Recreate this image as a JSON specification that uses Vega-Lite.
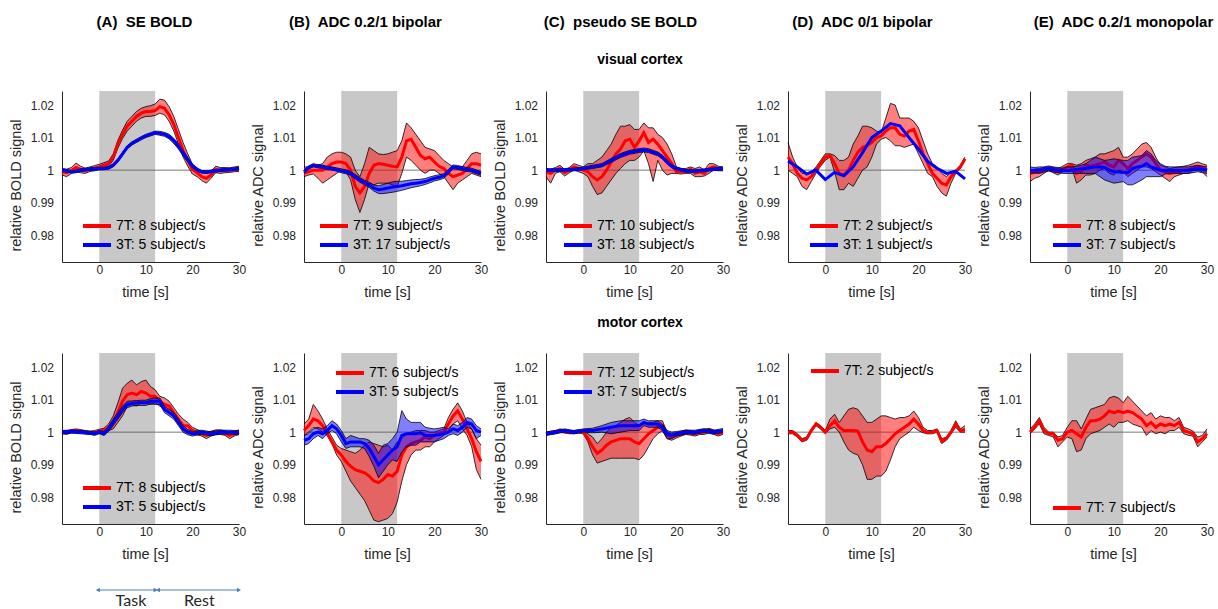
{
"$schema":"https://vega.github.io/schema/vega-lite/v6.json",
"background":"white",
"padding":{"left":8,"top":0,"right":0,"bottom":0},
"spacing":0,
"resolve":{"scale":{"color":"independent"},"legend":{"color":"independent"}},
"config":{
 "view":{"stroke":null},
 "font":"Liberation Sans",
 "axis":{"grid":false,"ticks":false,"domainColor":"#262626","domainWidth":1,"labelColor":"#262626","labelFontSize":12,"labelFont":"Liberation Sans","titleColor":"#262626","titleFontSize":14.5,"titleFontWeight":"normal","titleFont":"Liberation Sans","labelFlush":false,"labelOverlap":false},
 "axisX":{"labelPadding":2,"titlePadding":10},
 "axisY":{"labelPadding":8.5,"titlePadding":7},
 "legend":{"symbolType":"stroke","symbolStrokeWidth":4,"symbolSize":784,"labelFontSize":14,"labelFont":"Liberation Sans","labelColor":"#000000","rowPadding":-5,"gridAlign":"none","padding":0,"labelOffset":3}
},
"datasets":{
"A1":[
{"s":"7T","t":-8,"m":0.9995,"lo":0.9985,"hi":1.0005},{"s":"7T","t":-7,"m":0.9992,"lo":0.998,"hi":1.0003},{"s":"7T","t":-6,"m":0.9998,"lo":0.999,"hi":1.0008},{"s":"7T","t":-5,"m":1.0008,"lo":0.9995,"hi":1.0022},{"s":"7T","t":-4,"m":1.0002,"lo":0.9992,"hi":1.0012},{"s":"7T","t":-3,"m":0.9998,"lo":0.999,"hi":1.0006},{"s":"7T","t":-2,"m":1.0003,"lo":0.9996,"hi":1.001},{"s":"7T","t":-1,"m":1.0006,"lo":0.9998,"hi":1.0014},{"s":"7T","t":0,"m":1.001,"lo":1.0002,"hi":1.0018},{"s":"7T","t":1,"m":1.0015,"lo":1.0007,"hi":1.0023},{"s":"7T","t":2,"m":1.002,"lo":1.0012,"hi":1.0028},{"s":"7T","t":3,"m":1.004,"lo":1.003,"hi":1.005},{"s":"7T","t":4,"m":1.008,"lo":1.0068,"hi":1.0092},{"s":"7T","t":5,"m":1.011,"lo":1.0097,"hi":1.0123},{"s":"7T","t":6,"m":1.0135,"lo":1.012,"hi":1.015},{"s":"7T","t":7,"m":1.015,"lo":1.0135,"hi":1.0165},{"s":"7T","t":8,"m":1.0165,"lo":1.015,"hi":1.018},{"s":"7T","t":9,"m":1.0175,"lo":1.016,"hi":1.019},{"s":"7T","t":10,"m":1.018,"lo":1.0165,"hi":1.0195},{"s":"7T","t":11,"m":1.018,"lo":1.0165,"hi":1.0198},{"s":"7T","t":12,"m":1.0183,"lo":1.0168,"hi":1.0203},{"s":"7T","t":13,"m":1.0195,"lo":1.0175,"hi":1.0218},{"s":"7T","t":14,"m":1.019,"lo":1.017,"hi":1.0215},{"s":"7T","t":15,"m":1.017,"lo":1.015,"hi":1.0195},{"s":"7T","t":16,"m":1.014,"lo":1.012,"hi":1.0165},{"s":"7T","t":17,"m":1.01,"lo":1.008,"hi":1.0125},{"s":"7T","t":18,"m":1.006,"lo":1.004,"hi":1.0085},{"s":"7T","t":19,"m":1.003,"lo":1.0012,"hi":1.005},{"s":"7T","t":20,"m":1.0003,"lo":0.9988,"hi":1.0018},{"s":"7T","t":21,"m":0.9992,"lo":0.998,"hi":1.0005},{"s":"7T","t":22,"m":0.998,"lo":0.9968,"hi":0.9995},{"s":"7T","t":23,"m":0.9975,"lo":0.996,"hi":0.999},{"s":"7T","t":24,"m":0.9985,"lo":0.9975,"hi":0.9998},{"s":"7T","t":25,"m":1.0003,"lo":0.9992,"hi":1.0012},{"s":"7T","t":26,"m":0.9998,"lo":0.999,"hi":1.0008},{"s":"7T","t":27,"m":1.0,"lo":0.9992,"hi":1.0008},{"s":"7T","t":28,"m":1.0,"lo":0.9993,"hi":1.0007},{"s":"7T","t":29,"m":1.0002,"lo":0.9995,"hi":1.001},{"s":"7T","t":30,"m":1.0004,"lo":0.9996,"hi":1.0012},
{"s":"3T","t":-8,"m":1.0,"lo":0.9996,"hi":1.0004},{"s":"3T","t":-7,"m":0.9998,"lo":0.9994,"hi":1.0002},{"s":"3T","t":-6,"m":0.9995,"lo":0.9991,"hi":0.9999},{"s":"3T","t":-5,"m":0.9996,"lo":0.9992,"hi":1.0},{"s":"3T","t":-4,"m":1.0,"lo":0.9996,"hi":1.0004},{"s":"3T","t":-3,"m":1.0002,"lo":0.9998,"hi":1.0006},{"s":"3T","t":-2,"m":1.0003,"lo":0.9999,"hi":1.0007},{"s":"3T","t":-1,"m":1.0004,"lo":1.0,"hi":1.0008},{"s":"3T","t":0,"m":1.0005,"lo":1.0001,"hi":1.0009},{"s":"3T","t":1,"m":1.0005,"lo":1.0001,"hi":1.0009},{"s":"3T","t":2,"m":1.0007,"lo":1.0003,"hi":1.0011},{"s":"3T","t":3,"m":1.0015,"lo":1.001,"hi":1.002},{"s":"3T","t":4,"m":1.003,"lo":1.0025,"hi":1.0035},{"s":"3T","t":5,"m":1.005,"lo":1.0045,"hi":1.0055},{"s":"3T","t":6,"m":1.007,"lo":1.0065,"hi":1.0075},{"s":"3T","t":7,"m":1.0082,"lo":1.0077,"hi":1.0087},{"s":"3T","t":8,"m":1.009,"lo":1.0085,"hi":1.0095},{"s":"3T","t":9,"m":1.0098,"lo":1.0093,"hi":1.0103},{"s":"3T","t":10,"m":1.0105,"lo":1.01,"hi":1.011},{"s":"3T","t":11,"m":1.011,"lo":1.0105,"hi":1.0115},{"s":"3T","t":12,"m":1.0115,"lo":1.011,"hi":1.012},{"s":"3T","t":13,"m":1.0113,"lo":1.0107,"hi":1.0119},{"s":"3T","t":14,"m":1.011,"lo":1.0104,"hi":1.0116},{"s":"3T","t":15,"m":1.0103,"lo":1.0096,"hi":1.011},{"s":"3T","t":16,"m":1.009,"lo":1.0082,"hi":1.0098},{"s":"3T","t":17,"m":1.0073,"lo":1.0065,"hi":1.0081},{"s":"3T","t":18,"m":1.0052,"lo":1.0044,"hi":1.006},{"s":"3T","t":19,"m":1.0032,"lo":1.0025,"hi":1.0039},{"s":"3T","t":20,"m":1.0013,"lo":1.0007,"hi":1.0019},{"s":"3T","t":21,"m":1.0002,"lo":0.9997,"hi":1.0007},{"s":"3T","t":22,"m":0.9995,"lo":0.9991,"hi":0.9999},{"s":"3T","t":23,"m":0.9994,"lo":0.999,"hi":0.9998},{"s":"3T","t":24,"m":0.9996,"lo":0.9992,"hi":1.0},{"s":"3T","t":25,"m":0.9998,"lo":0.9994,"hi":1.0002},{"s":"3T","t":26,"m":1.0,"lo":0.9996,"hi":1.0004},{"s":"3T","t":27,"m":1.0001,"lo":0.9997,"hi":1.0005},{"s":"3T","t":28,"m":1.0002,"lo":0.9998,"hi":1.0006},{"s":"3T","t":29,"m":1.0003,"lo":0.9999,"hi":1.0007},{"s":"3T","t":30,"m":1.0005,"lo":1.0001,"hi":1.0009}
],
"B1":[
{"s":"7T","t":-8,"m":0.999,"lo":0.998,"hi":1.001},{"s":"7T","t":-7,"m":0.9995,"lo":0.9985,"hi":1.001},{"s":"7T","t":-6,"m":1.0,"lo":0.9988,"hi":1.0012},{"s":"7T","t":-5,"m":1.0,"lo":0.9975,"hi":1.0015},{"s":"7T","t":-4,"m":1.0,"lo":0.996,"hi":1.002},{"s":"7T","t":-3,"m":1.001,"lo":0.997,"hi":1.004},{"s":"7T","t":-2,"m":1.002,"lo":0.998,"hi":1.005},{"s":"7T","t":-1,"m":1.0025,"lo":0.999,"hi":1.0055},{"s":"7T","t":0,"m":1.0025,"lo":1.0,"hi":1.0055},{"s":"7T","t":1,"m":1.002,"lo":0.9995,"hi":1.005},{"s":"7T","t":2,"m":1.0,"lo":0.997,"hi":1.004},{"s":"7T","t":3,"m":0.995,"lo":0.991,"hi":1.0},{"s":"7T","t":4,"m":0.993,"lo":0.987,"hi":0.998},{"s":"7T","t":5,"m":0.995,"lo":0.991,"hi":1.002},{"s":"7T","t":6,"m":0.999,"lo":0.996,"hi":1.007},{"s":"7T","t":7,"m":1.0015,"lo":0.9955,"hi":1.006},{"s":"7T","t":8,"m":1.002,"lo":0.996,"hi":1.005},{"s":"7T","t":9,"m":1.0018,"lo":0.996,"hi":1.0048},{"s":"7T","t":10,"m":1.0015,"lo":0.996,"hi":1.005},{"s":"7T","t":11,"m":1.0012,"lo":0.9955,"hi":1.0055},{"s":"7T","t":12,"m":1.001,"lo":0.995,"hi":1.006},{"s":"7T","t":13,"m":1.004,"lo":0.999,"hi":1.009},{"s":"7T","t":14,"m":1.009,"lo":1.004,"hi":1.0145},{"s":"7T","t":15,"m":1.0095,"lo":1.003,"hi":1.013},{"s":"7T","t":16,"m":1.007,"lo":1.0015,"hi":1.011},{"s":"7T","t":17,"m":1.0045,"lo":1.0,"hi":1.009},{"s":"7T","t":18,"m":1.0035,"lo":0.999,"hi":1.007},{"s":"7T","t":19,"m":1.004,"lo":1.0,"hi":1.0065},{"s":"7T","t":20,"m":1.0025,"lo":1.0,"hi":1.006},{"s":"7T","t":21,"m":1.0012,"lo":0.999,"hi":1.0045},{"s":"7T","t":22,"m":1.0005,"lo":0.998,"hi":1.003},{"s":"7T","t":23,"m":0.999,"lo":0.996,"hi":1.002},{"s":"7T","t":24,"m":0.998,"lo":0.994,"hi":1.001},{"s":"7T","t":25,"m":0.9985,"lo":0.996,"hi":1.001},{"s":"7T","t":26,"m":0.999,"lo":0.997,"hi":1.001},{"s":"7T","t":27,"m":1.0005,"lo":0.998,"hi":1.003},{"s":"7T","t":28,"m":1.002,"lo":0.999,"hi":1.005},{"s":"7T","t":29,"m":1.002,"lo":0.9985,"hi":1.0055},{"s":"7T","t":30,"m":1.0015,"lo":0.998,"hi":1.005},
{"s":"3T","t":-8,"m":0.9995,"lo":0.999,"hi":1.0},{"s":"3T","t":-7,"m":1.0008,"lo":1.0003,"hi":1.0013},{"s":"3T","t":-6,"m":1.0015,"lo":1.001,"hi":1.002},{"s":"3T","t":-5,"m":1.0012,"lo":1.0007,"hi":1.0017},{"s":"3T","t":-4,"m":1.001,"lo":1.0005,"hi":1.0015},{"s":"3T","t":-3,"m":1.0007,"lo":1.0002,"hi":1.0012},{"s":"3T","t":-2,"m":1.0005,"lo":1.0,"hi":1.001},{"s":"3T","t":-1,"m":1.0002,"lo":0.9997,"hi":1.0007},{"s":"3T","t":0,"m":0.9998,"lo":0.9992,"hi":1.0004},{"s":"3T","t":1,"m":0.9995,"lo":0.9989,"hi":1.0001},{"s":"3T","t":2,"m":0.999,"lo":0.9984,"hi":0.9996},{"s":"3T","t":3,"m":0.998,"lo":0.9973,"hi":0.9987},{"s":"3T","t":4,"m":0.997,"lo":0.9963,"hi":0.9977},{"s":"3T","t":5,"m":0.9962,"lo":0.9955,"hi":0.9969},{"s":"3T","t":6,"m":0.9955,"lo":0.9947,"hi":0.9963},{"s":"3T","t":7,"m":0.9945,"lo":0.9936,"hi":0.9954},{"s":"3T","t":8,"m":0.994,"lo":0.9928,"hi":0.9952},{"s":"3T","t":9,"m":0.9942,"lo":0.9928,"hi":0.9956},{"s":"3T","t":10,"m":0.9945,"lo":0.993,"hi":0.996},{"s":"3T","t":11,"m":0.9948,"lo":0.9932,"hi":0.9964},{"s":"3T","t":12,"m":0.995,"lo":0.9935,"hi":0.9966},{"s":"3T","t":13,"m":0.9952,"lo":0.9938,"hi":0.9966},{"s":"3T","t":14,"m":0.9955,"lo":0.9942,"hi":0.9968},{"s":"3T","t":15,"m":0.9958,"lo":0.9946,"hi":0.997},{"s":"3T","t":16,"m":0.996,"lo":0.9949,"hi":0.9971},{"s":"3T","t":17,"m":0.9962,"lo":0.9952,"hi":0.9972},{"s":"3T","t":18,"m":0.9965,"lo":0.9956,"hi":0.9974},{"s":"3T","t":19,"m":0.997,"lo":0.9961,"hi":0.9979},{"s":"3T","t":20,"m":0.9975,"lo":0.9967,"hi":0.9983},{"s":"3T","t":21,"m":0.9978,"lo":0.997,"hi":0.9986},{"s":"3T","t":22,"m":0.9982,"lo":0.9975,"hi":0.9989},{"s":"3T","t":23,"m":0.9995,"lo":0.9988,"hi":1.0002},{"s":"3T","t":24,"m":1.001,"lo":1.0004,"hi":1.0016},{"s":"3T","t":25,"m":1.0008,"lo":1.0002,"hi":1.0014},{"s":"3T","t":26,"m":1.0005,"lo":0.9999,"hi":1.0011},{"s":"3T","t":27,"m":1.0002,"lo":0.9996,"hi":1.0008},{"s":"3T","t":28,"m":1.0,"lo":0.9994,"hi":1.0006},{"s":"3T","t":29,"m":0.9995,"lo":0.9989,"hi":1.0001},{"s":"3T","t":30,"m":0.999,"lo":0.9984,"hi":0.9996}
],
"C1":[
{"s":"7T","t":-8,"m":0.9995,"lo":0.998,"hi":1.0005},{"s":"7T","t":-7,"m":0.999,"lo":0.996,"hi":1.0003},{"s":"7T","t":-6,"m":1.0,"lo":0.999,"hi":1.0008},{"s":"7T","t":-5,"m":1.0005,"lo":0.9995,"hi":1.0015},{"s":"7T","t":-4,"m":0.9992,"lo":0.9982,"hi":1.0002},{"s":"7T","t":-3,"m":1.0,"lo":0.9992,"hi":1.0008},{"s":"7T","t":-2,"m":1.001,"lo":1.0,"hi":1.002},{"s":"7T","t":-1,"m":1.0005,"lo":0.9995,"hi":1.0015},{"s":"7T","t":0,"m":1.0,"lo":0.999,"hi":1.001},{"s":"7T","t":1,"m":0.9995,"lo":0.998,"hi":1.002},{"s":"7T","t":2,"m":0.998,"lo":0.995,"hi":1.002},{"s":"7T","t":3,"m":0.997,"lo":0.9925,"hi":1.003},{"s":"7T","t":4,"m":0.998,"lo":0.993,"hi":1.004},{"s":"7T","t":5,"m":1.0,"lo":0.995,"hi":1.006},{"s":"7T","t":6,"m":1.0025,"lo":0.997,"hi":1.008},{"s":"7T","t":7,"m":1.005,"lo":0.999,"hi":1.011},{"s":"7T","t":8,"m":1.0065,"lo":1.0005,"hi":1.0135},{"s":"7T","t":9,"m":1.009,"lo":1.002,"hi":1.0135},{"s":"7T","t":10,"m":1.0095,"lo":1.003,"hi":1.014},{"s":"7T","t":11,"m":1.007,"lo":1.003,"hi":1.0125},{"s":"7T","t":12,"m":1.009,"lo":1.004,"hi":1.0125},{"s":"7T","t":13,"m":1.0115,"lo":1.006,"hi":1.0145},{"s":"7T","t":14,"m":1.0085,"lo":1.002,"hi":1.013},{"s":"7T","t":15,"m":1.0095,"lo":0.9965,"hi":1.013},{"s":"7T","t":16,"m":1.008,"lo":1.003,"hi":1.011},{"s":"7T","t":17,"m":1.006,"lo":1.0,"hi":1.01},{"s":"7T","t":18,"m":1.004,"lo":0.9985,"hi":1.008},{"s":"7T","t":19,"m":1.002,"lo":0.999,"hi":1.005},{"s":"7T","t":20,"m":0.9995,"lo":0.999,"hi":1.001},{"s":"7T","t":21,"m":0.9995,"lo":0.9988,"hi":1.0005},{"s":"7T","t":22,"m":0.9995,"lo":0.999,"hi":1.0005},{"s":"7T","t":23,"m":1.0003,"lo":0.999,"hi":1.001},{"s":"7T","t":24,"m":0.999,"lo":0.998,"hi":1.0005},{"s":"7T","t":25,"m":0.9995,"lo":0.998,"hi":1.001},{"s":"7T","t":26,"m":0.999,"lo":0.9982,"hi":1.0},{"s":"7T","t":27,"m":1.0005,"lo":0.999,"hi":1.002},{"s":"7T","t":28,"m":1.001,"lo":1.0,"hi":1.002},{"s":"7T","t":29,"m":1.0005,"lo":0.9998,"hi":1.0012},{"s":"7T","t":30,"m":1.0005,"lo":0.9998,"hi":1.001},
{"s":"3T","t":-8,"m":1.0,"lo":0.9996,"hi":1.0004},{"s":"3T","t":-6,"m":1.0,"lo":0.9996,"hi":1.0004},{"s":"3T","t":-4,"m":1.0001,"lo":0.9997,"hi":1.0005},{"s":"3T","t":-2,"m":1.0002,"lo":0.9998,"hi":1.0006},{"s":"3T","t":0,"m":1.0005,"lo":1.0001,"hi":1.0009},{"s":"3T","t":2,"m":1.001,"lo":1.0005,"hi":1.0015},{"s":"3T","t":4,"m":1.0015,"lo":1.001,"hi":1.002},{"s":"3T","t":6,"m":1.003,"lo":1.0024,"hi":1.0036},{"s":"3T","t":8,"m":1.0045,"lo":1.0039,"hi":1.0051},{"s":"3T","t":10,"m":1.0055,"lo":1.0049,"hi":1.0061},{"s":"3T","t":12,"m":1.006,"lo":1.0054,"hi":1.0066},{"s":"3T","t":13,"m":1.0062,"lo":1.0056,"hi":1.0068},{"s":"3T","t":14,"m":1.006,"lo":1.0054,"hi":1.0066},{"s":"3T","t":16,"m":1.005,"lo":1.0044,"hi":1.0056},{"s":"3T","t":17,"m":1.004,"lo":1.0034,"hi":1.0046},{"s":"3T","t":18,"m":1.0025,"lo":1.0019,"hi":1.0031},{"s":"3T","t":19,"m":1.0012,"lo":1.0007,"hi":1.0017},{"s":"3T","t":20,"m":1.0005,"lo":1.0001,"hi":1.0009},{"s":"3T","t":22,"m":0.9998,"lo":0.9994,"hi":1.0002},{"s":"3T","t":24,"m":0.9997,"lo":0.9993,"hi":1.0001},{"s":"3T","t":26,"m":1.0,"lo":0.9996,"hi":1.0004},{"s":"3T","t":28,"m":1.0003,"lo":0.9999,"hi":1.0007},{"s":"3T","t":30,"m":1.0005,"lo":1.0001,"hi":1.0009}
],
"D1":[
{"s":"7T","t":-8,"m":1.004,"lo":1.0,"hi":1.0085},{"s":"7T","t":-7,"m":1.002,"lo":0.999,"hi":1.004},{"s":"7T","t":-6,"m":0.999,"lo":0.998,"hi":1.001},{"s":"7T","t":-5,"m":0.9975,"lo":0.995,"hi":0.999},{"s":"7T","t":-4,"m":0.997,"lo":0.994,"hi":0.999},{"s":"7T","t":-3,"m":0.998,"lo":0.9965,"hi":0.9995},{"s":"7T","t":-2,"m":1.0,"lo":0.999,"hi":1.001},{"s":"7T","t":-1,"m":1.002,"lo":1.0012,"hi":1.003},{"s":"7T","t":0,"m":1.004,"lo":1.003,"hi":1.005},{"s":"7T","t":1,"m":1.0045,"lo":1.004,"hi":1.005},{"s":"7T","t":2,"m":1.002,"lo":0.9995,"hi":1.0045},{"s":"7T","t":3,"m":0.999,"lo":0.994,"hi":1.003},{"s":"7T","t":4,"m":0.9985,"lo":0.994,"hi":1.003},{"s":"7T","t":5,"m":1.0,"lo":0.996,"hi":1.004},{"s":"7T","t":6,"m":1.003,"lo":0.995,"hi":1.008},{"s":"7T","t":7,"m":1.0055,"lo":0.9975,"hi":1.0105},{"s":"7T","t":8,"m":1.007,"lo":1.0,"hi":1.0135},{"s":"7T","t":9,"m":1.0075,"lo":1.001,"hi":1.0135},{"s":"7T","t":10,"m":1.0085,"lo":1.004,"hi":1.013},{"s":"7T","t":11,"m":1.01,"lo":1.008,"hi":1.012},{"s":"7T","t":12,"m":1.0105,"lo":1.0095,"hi":1.0115},{"s":"7T","t":13,"m":1.012,"lo":1.01,"hi":1.016},{"s":"7T","t":14,"m":1.013,"lo":1.009,"hi":1.0205},{"s":"7T","t":15,"m":1.013,"lo":1.0075,"hi":1.02},{"s":"7T","t":16,"m":1.011,"lo":1.0075,"hi":1.016},{"s":"7T","t":17,"m":1.0105,"lo":1.007,"hi":1.016},{"s":"7T","t":18,"m":1.012,"lo":1.0075,"hi":1.016},{"s":"7T","t":19,"m":1.0125,"lo":1.008,"hi":1.015},{"s":"7T","t":20,"m":1.009,"lo":1.005,"hi":1.013},{"s":"7T","t":21,"m":1.005,"lo":1.002,"hi":1.009},{"s":"7T","t":22,"m":1.002,"lo":0.999,"hi":1.005},{"s":"7T","t":23,"m":0.999,"lo":0.998,"hi":1.002},{"s":"7T","t":24,"m":0.9975,"lo":0.995,"hi":1.001},{"s":"7T","t":25,"m":0.996,"lo":0.993,"hi":0.999},{"s":"7T","t":26,"m":0.9955,"lo":0.992,"hi":0.998},{"s":"7T","t":27,"m":0.998,"lo":0.996,"hi":0.9995},{"s":"7T","t":28,"m":0.9995,"lo":0.999,"hi":1.0},{"s":"7T","t":29,"m":1.001,"lo":1.0005,"hi":1.0015},{"s":"7T","t":30,"m":1.0035,"lo":1.003,"hi":1.004},
{"s":"3T","t":-8,"m":1.0028},{"s":"3T","t":-6,"m":1.001},{"s":"3T","t":-4,"m":0.9988},{"s":"3T","t":-2,"m":1.0},{"s":"3T","t":0,"m":0.9971},{"s":"3T","t":2,"m":0.9993},{"s":"3T","t":4,"m":0.9983},{"s":"3T","t":6,"m":1.001},{"s":"3T","t":8,"m":1.0054},{"s":"3T","t":10,"m":1.01},{"s":"3T","t":12,"m":1.012},{"s":"3T","t":14,"m":1.0143},{"s":"3T","t":16,"m":1.0136},{"s":"3T","t":18,"m":1.01},{"s":"3T","t":20,"m":1.0065},{"s":"3T","t":22,"m":1.0027},{"s":"3T","t":24,"m":1.0006},{"s":"3T","t":26,"m":0.999},{"s":"3T","t":28,"m":0.9996},{"s":"3T","t":30,"m":0.9973}
],
"E1":[
{"s":"7T","t":-8,"m":0.999,"lo":0.9965,"hi":1.0},{"s":"7T","t":-7,"m":0.9993,"lo":0.9975,"hi":1.0003},{"s":"7T","t":-6,"m":0.9995,"lo":0.998,"hi":1.0005},{"s":"7T","t":-5,"m":1.0,"lo":0.999,"hi":1.0008},{"s":"7T","t":-4,"m":1.0005,"lo":1.0,"hi":1.001},{"s":"7T","t":-3,"m":1.0,"lo":0.9992,"hi":1.0008},{"s":"7T","t":-2,"m":0.9995,"lo":0.9985,"hi":1.0005},{"s":"7T","t":-1,"m":1.0003,"lo":0.9995,"hi":1.0012},{"s":"7T","t":0,"m":1.001,"lo":1.0,"hi":1.002},{"s":"7T","t":1,"m":1.0015,"lo":1.0005,"hi":1.002},{"s":"7T","t":2,"m":0.999,"lo":0.996,"hi":1.0015},{"s":"7T","t":3,"m":0.9995,"lo":0.997,"hi":1.002},{"s":"7T","t":4,"m":1.0015,"lo":0.9985,"hi":1.003},{"s":"7T","t":5,"m":1.0012,"lo":0.9985,"hi":1.0035},{"s":"7T","t":6,"m":1.0015,"lo":0.999,"hi":1.004},{"s":"7T","t":7,"m":1.002,"lo":1.0,"hi":1.005},{"s":"7T","t":8,"m":1.0025,"lo":1.0005,"hi":1.005},{"s":"7T","t":9,"m":1.0015,"lo":0.999,"hi":1.0055},{"s":"7T","t":10,"m":1.001,"lo":0.9985,"hi":1.006},{"s":"7T","t":11,"m":1.003,"lo":1.0,"hi":1.007},{"s":"7T","t":12,"m":1.002,"lo":0.9995,"hi":1.004},{"s":"7T","t":13,"m":1.0005,"lo":0.998,"hi":1.004},{"s":"7T","t":14,"m":1.002,"lo":0.999,"hi":1.005},{"s":"7T","t":15,"m":1.003,"lo":1.0,"hi":1.0065},{"s":"7T","t":16,"m":1.004,"lo":1.001,"hi":1.008},{"s":"7T","t":17,"m":1.005,"lo":1.001,"hi":1.0085},{"s":"7T","t":18,"m":1.004,"lo":1.0005,"hi":1.007},{"s":"7T","t":19,"m":1.002,"lo":0.9995,"hi":1.004},{"s":"7T","t":20,"m":1.0,"lo":0.9985,"hi":1.0015},{"s":"7T","t":21,"m":0.9995,"lo":0.9975,"hi":1.001},{"s":"7T","t":22,"m":0.999,"lo":0.9965,"hi":1.0005},{"s":"7T","t":23,"m":0.9993,"lo":0.998,"hi":1.0008},{"s":"7T","t":24,"m":0.9995,"lo":0.9985,"hi":1.001},{"s":"7T","t":25,"m":1.0,"lo":0.999,"hi":1.0012},{"s":"7T","t":26,"m":1.0,"lo":0.999,"hi":1.0015},{"s":"7T","t":27,"m":1.0008,"lo":0.9998,"hi":1.002},{"s":"7T","t":28,"m":1.0012,"lo":1.0,"hi":1.0025},{"s":"7T","t":29,"m":1.0008,"lo":0.9995,"hi":1.002},{"s":"7T","t":30,"m":1.0,"lo":0.998,"hi":1.0015},
{"s":"3T","t":-8,"m":1.0,"lo":0.999,"hi":1.001},{"s":"3T","t":-7,"m":1.0,"lo":0.9992,"hi":1.0008},{"s":"3T","t":-6,"m":1.0,"lo":0.999,"hi":1.001},{"s":"3T","t":-5,"m":1.0002,"lo":0.9994,"hi":1.001},{"s":"3T","t":-4,"m":1.0005,"lo":0.9997,"hi":1.0013},{"s":"3T","t":-3,"m":1.0002,"lo":0.9994,"hi":1.001},{"s":"3T","t":-2,"m":1.0,"lo":0.9992,"hi":1.0008},{"s":"3T","t":-1,"m":0.9998,"lo":0.999,"hi":1.0006},{"s":"3T","t":0,"m":0.9998,"lo":0.999,"hi":1.001},{"s":"3T","t":1,"m":1.0,"lo":0.999,"hi":1.001},{"s":"3T","t":2,"m":1.0002,"lo":0.999,"hi":1.0012},{"s":"3T","t":3,"m":1.0004,"lo":0.999,"hi":1.0015},{"s":"3T","t":4,"m":1.0005,"lo":0.999,"hi":1.002},{"s":"3T","t":5,"m":1.0008,"lo":0.999,"hi":1.003},{"s":"3T","t":6,"m":1.001,"lo":0.999,"hi":1.004},{"s":"3T","t":7,"m":1.001,"lo":0.998,"hi":1.0035},{"s":"3T","t":8,"m":1.0008,"lo":0.997,"hi":1.003},{"s":"3T","t":9,"m":1.0,"lo":0.9965,"hi":1.0032},{"s":"3T","t":10,"m":0.9995,"lo":0.996,"hi":1.0035},{"s":"3T","t":11,"m":0.9994,"lo":0.9962,"hi":1.0032},{"s":"3T","t":12,"m":0.9993,"lo":0.9965,"hi":1.003},{"s":"3T","t":13,"m":0.9992,"lo":0.9955,"hi":1.003},{"s":"3T","t":14,"m":1.0005,"lo":0.9955,"hi":1.004},{"s":"3T","t":15,"m":1.001,"lo":0.9962,"hi":1.0042},{"s":"3T","t":16,"m":1.0012,"lo":0.997,"hi":1.0045},{"s":"3T","t":17,"m":1.002,"lo":0.998,"hi":1.006},{"s":"3T","t":18,"m":1.001,"lo":0.998,"hi":1.005},{"s":"3T","t":19,"m":1.0005,"lo":0.998,"hi":1.003},{"s":"3T","t":20,"m":1.0,"lo":0.998,"hi":1.002},{"s":"3T","t":21,"m":1.0,"lo":0.9988,"hi":1.0012},{"s":"3T","t":22,"m":1.0,"lo":0.999,"hi":1.001},{"s":"3T","t":24,"m":1.0,"lo":0.999,"hi":1.001},{"s":"3T","t":26,"m":1.0,"lo":0.999,"hi":1.001},{"s":"3T","t":28,"m":1.0005,"lo":0.9995,"hi":1.0015},{"s":"3T","t":30,"m":1.0,"lo":0.999,"hi":1.001}
],
"A2":[
{"s":"7T","t":-8,"m":1.0,"lo":0.9995,"hi":1.0005},{"s":"7T","t":-7,"m":0.9998,"lo":0.9993,"hi":1.0003},{"s":"7T","t":-6,"m":1.0003,"lo":0.9998,"hi":1.0008},{"s":"7T","t":-5,"m":1.0005,"lo":1.0,"hi":1.001},{"s":"7T","t":-4,"m":1.0003,"lo":0.9998,"hi":1.0008},{"s":"7T","t":-3,"m":1.0,"lo":0.9995,"hi":1.0005},{"s":"7T","t":-2,"m":0.9998,"lo":0.9993,"hi":1.0003},{"s":"7T","t":-1,"m":1.0,"lo":0.9995,"hi":1.0005},{"s":"7T","t":0,"m":1.0003,"lo":0.9997,"hi":1.0009},{"s":"7T","t":1,"m":1.0005,"lo":0.9998,"hi":1.0012},{"s":"7T","t":2,"m":1.0015,"lo":1.0005,"hi":1.0025},{"s":"7T","t":3,"m":1.003,"lo":1.001,"hi":1.005},{"s":"7T","t":4,"m":1.006,"lo":1.003,"hi":1.009},{"s":"7T","t":5,"m":1.0095,"lo":1.005,"hi":1.0135},{"s":"7T","t":6,"m":1.0115,"lo":1.008,"hi":1.015},{"s":"7T","t":7,"m":1.012,"lo":1.0085,"hi":1.016},{"s":"7T","t":8,"m":1.0115,"lo":1.008,"hi":1.0145},{"s":"7T","t":9,"m":1.0125,"lo":1.009,"hi":1.0155},{"s":"7T","t":10,"m":1.012,"lo":1.009,"hi":1.016},{"s":"7T","t":11,"m":1.011,"lo":1.0085,"hi":1.014},{"s":"7T","t":12,"m":1.011,"lo":1.009,"hi":1.013},{"s":"7T","t":13,"m":1.0095,"lo":1.008,"hi":1.011},{"s":"7T","t":14,"m":1.0085,"lo":1.007,"hi":1.0105},{"s":"7T","t":15,"m":1.008,"lo":1.006,"hi":1.0095},{"s":"7T","t":16,"m":1.006,"lo":1.0045,"hi":1.0075},{"s":"7T","t":17,"m":1.004,"lo":1.0025,"hi":1.0055},{"s":"7T","t":18,"m":1.002,"lo":1.0005,"hi":1.004},{"s":"7T","t":19,"m":1.002,"lo":1.0005,"hi":1.003},{"s":"7T","t":20,"m":1.0005,"lo":0.9995,"hi":1.0015},{"s":"7T","t":21,"m":1.0,"lo":0.9992,"hi":1.0008},{"s":"7T","t":22,"m":0.9995,"lo":0.9988,"hi":1.0003},{"s":"7T","t":23,"m":0.999,"lo":0.998,"hi":1.0},{"s":"7T","t":24,"m":0.9995,"lo":0.9988,"hi":1.0003},{"s":"7T","t":25,"m":1.0,"lo":0.9993,"hi":1.0007},{"s":"7T","t":26,"m":1.0,"lo":0.9993,"hi":1.0007},{"s":"7T","t":27,"m":0.9997,"lo":0.999,"hi":1.0004},{"s":"7T","t":28,"m":0.999,"lo":0.998,"hi":1.0},{"s":"7T","t":29,"m":0.9995,"lo":0.9988,"hi":1.0003},{"s":"7T","t":30,"m":1.0,"lo":0.9993,"hi":1.0007},
{"s":"3T","t":-8,"m":1.0,"lo":0.9995,"hi":1.0005},{"s":"3T","t":-6,"m":1.0002,"lo":0.9997,"hi":1.0007},{"s":"3T","t":-4,"m":1.0,"lo":0.9995,"hi":1.0005},{"s":"3T","t":-2,"m":0.9998,"lo":0.9993,"hi":1.0003},{"s":"3T","t":-1,"m":0.9995,"lo":0.999,"hi":1.0},{"s":"3T","t":0,"m":1.0,"lo":0.9995,"hi":1.0005},{"s":"3T","t":1,"m":0.9995,"lo":0.999,"hi":1.0002},{"s":"3T","t":2,"m":1.001,"lo":1.0002,"hi":1.0018},{"s":"3T","t":3,"m":1.003,"lo":1.002,"hi":1.004},{"s":"3T","t":4,"m":1.005,"lo":1.004,"hi":1.006},{"s":"3T","t":5,"m":1.007,"lo":1.006,"hi":1.008},{"s":"3T","t":6,"m":1.0085,"lo":1.0075,"hi":1.0095},{"s":"3T","t":7,"m":1.0088,"lo":1.008,"hi":1.0096},{"s":"3T","t":8,"m":1.009,"lo":1.0082,"hi":1.0097},{"s":"3T","t":9,"m":1.009,"lo":1.0082,"hi":1.0098},{"s":"3T","t":10,"m":1.009,"lo":1.0082,"hi":1.0098},{"s":"3T","t":11,"m":1.0095,"lo":1.0087,"hi":1.0103},{"s":"3T","t":12,"m":1.0095,"lo":1.0085,"hi":1.0105},{"s":"3T","t":13,"m":1.0095,"lo":1.0085,"hi":1.0105},{"s":"3T","t":14,"m":1.007,"lo":1.006,"hi":1.008},{"s":"3T","t":15,"m":1.006,"lo":1.005,"hi":1.007},{"s":"3T","t":16,"m":1.005,"lo":1.004,"hi":1.006},{"s":"3T","t":17,"m":1.003,"lo":1.002,"hi":1.004},{"s":"3T","t":18,"m":1.001,"lo":1.0,"hi":1.002},{"s":"3T","t":19,"m":1.0,"lo":0.9992,"hi":1.0008},{"s":"3T","t":20,"m":0.9995,"lo":0.9988,"hi":1.0002},{"s":"3T","t":22,"m":1.0,"lo":0.9994,"hi":1.0006},{"s":"3T","t":24,"m":0.9995,"lo":0.9989,"hi":1.0001},{"s":"3T","t":26,"m":1.0,"lo":0.9994,"hi":1.0006},{"s":"3T","t":28,"m":1.0,"lo":0.9994,"hi":1.0006},{"s":"3T","t":30,"m":0.9998,"lo":0.9992,"hi":1.0004}
],
"B2":[
{"s":"7T","t":-8,"m":1.0005,"lo":0.999,"hi":1.0025},{"s":"7T","t":-7,"m":1.002,"lo":1.0,"hi":1.004},{"s":"7T","t":-6,"m":1.004,"lo":1.0015,"hi":1.0085},{"s":"7T","t":-5,"m":1.0035,"lo":1.001,"hi":1.0065},{"s":"7T","t":-4,"m":1.002,"lo":1.0,"hi":1.004},{"s":"7T","t":-3,"m":0.9995,"lo":0.999,"hi":1.001},{"s":"7T","t":-2,"m":0.997,"lo":0.9965,"hi":0.9985},{"s":"7T","t":-1,"m":0.9945,"lo":0.993,"hi":0.996},{"s":"7T","t":0,"m":0.993,"lo":0.991,"hi":0.995},{"s":"7T","t":1,"m":0.991,"lo":0.988,"hi":0.9945},{"s":"7T","t":2,"m":0.9895,"lo":0.985,"hi":0.994},{"s":"7T","t":3,"m":0.9885,"lo":0.983,"hi":0.9935},{"s":"7T","t":4,"m":0.988,"lo":0.981,"hi":0.9945},{"s":"7T","t":5,"m":0.9875,"lo":0.979,"hi":0.996},{"s":"7T","t":6,"m":0.9865,"lo":0.976,"hi":0.997},{"s":"7T","t":7,"m":0.985,"lo":0.973,"hi":0.9965},{"s":"7T","t":8,"m":0.9845,"lo":0.9725,"hi":0.996},{"s":"7T","t":9,"m":0.9855,"lo":0.973,"hi":0.9955},{"s":"7T","t":10,"m":0.987,"lo":0.9735,"hi":0.996},{"s":"7T","t":11,"m":0.9865,"lo":0.975,"hi":0.9945},{"s":"7T","t":12,"m":0.988,"lo":0.9785,"hi":0.997},{"s":"7T","t":13,"m":0.993,"lo":0.985,"hi":0.998},{"s":"7T","t":14,"m":0.9955,"lo":0.99,"hi":0.9995},{"s":"7T","t":15,"m":0.9965,"lo":0.993,"hi":1.0},{"s":"7T","t":16,"m":0.997,"lo":0.9945,"hi":1.0005},{"s":"7T","t":17,"m":0.9975,"lo":0.9945,"hi":1.0005},{"s":"7T","t":18,"m":0.9985,"lo":0.9955,"hi":1.0005},{"s":"7T","t":19,"m":0.998,"lo":0.9955,"hi":1.0},{"s":"7T","t":20,"m":0.999,"lo":0.997,"hi":1.0},{"s":"7T","t":21,"m":0.9995,"lo":0.998,"hi":1.0005},{"s":"7T","t":22,"m":1.0,"lo":0.999,"hi":1.001},{"s":"7T","t":23,"m":1.0025,"lo":1.0005,"hi":1.0045},{"s":"7T","t":24,"m":1.005,"lo":1.0025,"hi":1.007},{"s":"7T","t":25,"m":1.0065,"lo":1.0035,"hi":1.009},{"s":"7T","t":26,"m":1.004,"lo":1.001,"hi":1.0065},{"s":"7T","t":27,"m":1.001,"lo":0.999,"hi":1.003},{"s":"7T","t":28,"m":0.998,"lo":0.9955,"hi":1.001},{"s":"7T","t":29,"m":0.994,"lo":0.9885,"hi":0.998},{"s":"7T","t":30,"m":0.991,"lo":0.9855,"hi":0.996},
{"s":"3T","t":-8,"m":0.9975,"lo":0.996,"hi":0.999},{"s":"3T","t":-7,"m":0.998,"lo":0.9965,"hi":0.9995},{"s":"3T","t":-6,"m":0.9995,"lo":0.998,"hi":1.001},{"s":"3T","t":-5,"m":1.0,"lo":0.999,"hi":1.0015},{"s":"3T","t":-4,"m":0.9995,"lo":0.998,"hi":1.001},{"s":"3T","t":-3,"m":1.0005,"lo":0.9995,"hi":1.002},{"s":"3T","t":-2,"m":1.002,"lo":1.0005,"hi":1.0035},{"s":"3T","t":-1,"m":1.001,"lo":0.9995,"hi":1.0025},{"s":"3T","t":0,"m":0.999,"lo":0.997,"hi":1.0005},{"s":"3T","t":1,"m":0.9965,"lo":0.995,"hi":0.998},{"s":"3T","t":2,"m":0.997,"lo":0.9955,"hi":0.999},{"s":"3T","t":3,"m":0.997,"lo":0.9955,"hi":0.9985},{"s":"3T","t":4,"m":0.997,"lo":0.9955,"hi":0.998},{"s":"3T","t":5,"m":0.9965,"lo":0.995,"hi":0.998},{"s":"3T","t":6,"m":0.995,"lo":0.9925,"hi":0.9975},{"s":"3T","t":7,"m":0.9925,"lo":0.9895,"hi":0.996},{"s":"3T","t":8,"m":0.99,"lo":0.986,"hi":0.9935},{"s":"3T","t":9,"m":0.9915,"lo":0.988,"hi":0.996},{"s":"3T","t":10,"m":0.993,"lo":0.99,"hi":0.9965},{"s":"3T","t":11,"m":0.9945,"lo":0.9915,"hi":0.998},{"s":"3T","t":12,"m":0.9955,"lo":0.991,"hi":1.0},{"s":"3T","t":13,"m":0.999,"lo":0.994,"hi":1.0066},{"s":"3T","t":14,"m":0.9995,"lo":0.9955,"hi":1.004},{"s":"3T","t":15,"m":0.9995,"lo":0.996,"hi":1.003},{"s":"3T","t":16,"m":0.9995,"lo":0.996,"hi":1.003},{"s":"3T","t":17,"m":0.9998,"lo":0.997,"hi":1.003},{"s":"3T","t":18,"m":0.999,"lo":0.997,"hi":1.0015},{"s":"3T","t":19,"m":0.999,"lo":0.997,"hi":1.0012},{"s":"3T","t":20,"m":0.999,"lo":0.997,"hi":1.001},{"s":"3T","t":21,"m":0.9992,"lo":0.9975,"hi":1.0012},{"s":"3T","t":22,"m":0.9995,"lo":0.998,"hi":1.0015},{"s":"3T","t":23,"m":1.0,"lo":0.999,"hi":1.001},{"s":"3T","t":24,"m":1.001,"lo":0.9995,"hi":1.0025},{"s":"3T","t":25,"m":1.0005,"lo":0.999,"hi":1.002},{"s":"3T","t":26,"m":1.0015,"lo":1.0,"hi":1.003},{"s":"3T","t":27,"m":1.003,"lo":1.0015,"hi":1.0045},{"s":"3T","t":28,"m":1.0025,"lo":1.001,"hi":1.004},{"s":"3T","t":29,"m":1.0005,"lo":0.998,"hi":1.002},{"s":"3T","t":30,"m":1.0,"lo":0.999,"hi":1.001}
],
"C2":[
{"s":"7T","t":-8,"m":0.9995,"lo":0.999,"hi":1.0},{"s":"7T","t":-7,"m":0.9998,"lo":0.9993,"hi":1.0003},{"s":"7T","t":-6,"m":1.0,"lo":0.9995,"hi":1.0005},{"s":"7T","t":-5,"m":1.0005,"lo":1.0,"hi":1.001},{"s":"7T","t":-4,"m":1.0002,"lo":0.9997,"hi":1.0007},{"s":"7T","t":-3,"m":1.0,"lo":0.9995,"hi":1.0005},{"s":"7T","t":-2,"m":1.0,"lo":0.9995,"hi":1.0005},{"s":"7T","t":-1,"m":1.0002,"lo":0.9997,"hi":1.0007},{"s":"7T","t":0,"m":1.0,"lo":0.9995,"hi":1.0005},{"s":"7T","t":1,"m":0.998,"lo":0.997,"hi":0.9995},{"s":"7T","t":2,"m":0.9955,"lo":0.993,"hi":0.9985},{"s":"7T","t":3,"m":0.9935,"lo":0.9905,"hi":0.9965},{"s":"7T","t":4,"m":0.9945,"lo":0.991,"hi":0.998},{"s":"7T","t":5,"m":0.996,"lo":0.9915,"hi":1.0},{"s":"7T","t":6,"m":0.997,"lo":0.992,"hi":1.0015},{"s":"7T","t":7,"m":0.9975,"lo":0.992,"hi":1.002},{"s":"7T","t":8,"m":0.998,"lo":0.992,"hi":1.003},{"s":"7T","t":9,"m":0.998,"lo":0.992,"hi":1.004},{"s":"7T","t":10,"m":0.998,"lo":0.992,"hi":1.0045},{"s":"7T","t":11,"m":0.997,"lo":0.992,"hi":1.003},{"s":"7T","t":12,"m":0.9965,"lo":0.9915,"hi":1.002},{"s":"7T","t":13,"m":0.998,"lo":0.993,"hi":1.0025},{"s":"7T","t":14,"m":0.9995,"lo":0.9955,"hi":1.003},{"s":"7T","t":15,"m":1.0005,"lo":0.998,"hi":1.003},{"s":"7T","t":16,"m":1.0015,"lo":0.9995,"hi":1.0035},{"s":"7T","t":17,"m":1.002,"lo":1.0005,"hi":1.0035},{"s":"7T","t":18,"m":0.999,"lo":0.998,"hi":1.0},{"s":"7T","t":19,"m":0.9985,"lo":0.9975,"hi":0.9995},{"s":"7T","t":20,"m":0.999,"lo":0.9982,"hi":0.9998},{"s":"7T","t":21,"m":0.9995,"lo":0.9988,"hi":1.0002},{"s":"7T","t":22,"m":1.0,"lo":0.9993,"hi":1.0007},{"s":"7T","t":23,"m":0.9998,"lo":0.9991,"hi":1.0005},{"s":"7T","t":24,"m":0.9995,"lo":0.9988,"hi":1.0002},{"s":"7T","t":25,"m":1.0,"lo":0.9993,"hi":1.0007},{"s":"7T","t":26,"m":1.0,"lo":0.9993,"hi":1.0007},{"s":"7T","t":27,"m":1.0005,"lo":0.9998,"hi":1.0012},{"s":"7T","t":28,"m":1.0,"lo":0.9993,"hi":1.0007},{"s":"7T","t":29,"m":0.9995,"lo":0.9988,"hi":1.0002},{"s":"7T","t":30,"m":1.0,"lo":0.9993,"hi":1.0007},
{"s":"3T","t":-8,"m":0.9995,"lo":0.999,"hi":1.0},{"s":"3T","t":-6,"m":1.0,"lo":0.9995,"hi":1.0005},{"s":"3T","t":-4,"m":1.0005,"lo":1.0,"hi":1.001},{"s":"3T","t":-2,"m":1.0,"lo":0.9995,"hi":1.0005},{"s":"3T","t":0,"m":1.0005,"lo":1.0,"hi":1.001},{"s":"3T","t":2,"m":1.0005,"lo":0.9998,"hi":1.0012},{"s":"3T","t":4,"m":1.001,"lo":1.0,"hi":1.002},{"s":"3T","t":6,"m":1.0015,"lo":0.9995,"hi":1.003},{"s":"3T","t":8,"m":1.002,"lo":1.0,"hi":1.0035},{"s":"3T","t":10,"m":1.002,"lo":1.0005,"hi":1.0035},{"s":"3T","t":12,"m":1.002,"lo":1.0005,"hi":1.0035},{"s":"3T","t":13,"m":1.003,"lo":1.002,"hi":1.004},{"s":"3T","t":14,"m":1.0025,"lo":1.0015,"hi":1.0035},{"s":"3T","t":16,"m":1.0025,"lo":1.0015,"hi":1.0035},{"s":"3T","t":17,"m":1.0015,"lo":1.0005,"hi":1.0025},{"s":"3T","t":18,"m":0.9995,"lo":0.998,"hi":1.0005},{"s":"3T","t":19,"m":0.999,"lo":0.998,"hi":1.0},{"s":"3T","t":20,"m":0.9995,"lo":0.9988,"hi":1.0002},{"s":"3T","t":22,"m":1.0,"lo":0.9994,"hi":1.0006},{"s":"3T","t":24,"m":1.0,"lo":0.9994,"hi":1.0006},{"s":"3T","t":26,"m":1.0005,"lo":0.9999,"hi":1.0011},{"s":"3T","t":28,"m":1.0,"lo":0.9994,"hi":1.0006},{"s":"3T","t":30,"m":1.0005,"lo":0.9999,"hi":1.0011}
],
"D2":[
{"s":"7T","t":-8,"m":1.0,"lo":0.9995,"hi":1.0005},{"s":"7T","t":-7,"m":1.0,"lo":0.9995,"hi":1.0005},{"s":"7T","t":-6,"m":0.999,"lo":0.9985,"hi":0.9995},{"s":"7T","t":-5,"m":0.9975,"lo":0.997,"hi":0.998},{"s":"7T","t":-4,"m":0.998,"lo":0.9975,"hi":0.9985},{"s":"7T","t":-3,"m":1.0005,"lo":1.0,"hi":1.001},{"s":"7T","t":-2,"m":1.0025,"lo":1.002,"hi":1.003},{"s":"7T","t":-1,"m":1.0015,"lo":1.001,"hi":1.002},{"s":"7T","t":0,"m":1.0,"lo":0.9995,"hi":1.0005},{"s":"7T","t":1,"m":1.002,"lo":1.001,"hi":1.004},{"s":"7T","t":2,"m":1.0035,"lo":1.0015,"hi":1.0055},{"s":"7T","t":3,"m":1.0015,"lo":1.0,"hi":1.003},{"s":"7T","t":4,"m":1.0005,"lo":0.997,"hi":1.005},{"s":"7T","t":5,"m":1.0005,"lo":0.9945,"hi":1.007},{"s":"7T","t":6,"m":1.0005,"lo":0.9935,"hi":1.0075},{"s":"7T","t":7,"m":1.0003,"lo":0.993,"hi":1.007},{"s":"7T","t":8,"m":0.997,"lo":0.99,"hi":1.005},{"s":"7T","t":9,"m":0.9945,"lo":0.9855,"hi":1.003},{"s":"7T","t":10,"m":0.994,"lo":0.9855,"hi":1.003},{"s":"7T","t":11,"m":0.9955,"lo":0.9865,"hi":1.004},{"s":"7T","t":12,"m":0.9955,"lo":0.9865,"hi":1.005},{"s":"7T","t":13,"m":0.9965,"lo":0.988,"hi":1.005},{"s":"7T","t":14,"m":0.998,"lo":0.9915,"hi":1.0045},{"s":"7T","t":15,"m":0.9995,"lo":0.9955,"hi":1.004},{"s":"7T","t":16,"m":1.0005,"lo":0.998,"hi":1.0045},{"s":"7T","t":17,"m":1.0015,"lo":0.999,"hi":1.0045},{"s":"7T","t":18,"m":1.0025,"lo":1.0,"hi":1.005},{"s":"7T","t":19,"m":1.004,"lo":1.0015,"hi":1.0065},{"s":"7T","t":20,"m":1.0025,"lo":1.0005,"hi":1.0045},{"s":"7T","t":21,"m":1.0005,"lo":0.9998,"hi":1.0015},{"s":"7T","t":22,"m":0.9998,"lo":0.9995,"hi":1.0005},{"s":"7T","t":23,"m":1.0,"lo":0.9995,"hi":1.0005},{"s":"7T","t":24,"m":1.0005,"lo":1.0,"hi":1.001},{"s":"7T","t":25,"m":0.9972,"lo":0.9965,"hi":0.998},{"s":"7T","t":26,"m":0.998,"lo":0.9975,"hi":0.9985},{"s":"7T","t":27,"m":1.0,"lo":0.9995,"hi":1.0005},{"s":"7T","t":28,"m":1.0025,"lo":1.0015,"hi":1.0035},{"s":"7T","t":29,"m":1.0005,"lo":1.0,"hi":1.001},{"s":"7T","t":30,"m":1.0008,"lo":1.0,"hi":1.002}
],
"E2":[
{"s":"7T","t":-8,"m":1.0,"lo":0.9995,"hi":1.001},{"s":"7T","t":-7,"m":1.0015,"lo":1.001,"hi":1.0025},{"s":"7T","t":-6,"m":1.0035,"lo":1.0025,"hi":1.0045},{"s":"7T","t":-5,"m":1.0005,"lo":0.9995,"hi":1.0015},{"s":"7T","t":-4,"m":0.9995,"lo":0.999,"hi":1.0},{"s":"7T","t":-3,"m":0.9995,"lo":0.9985,"hi":1.0},{"s":"7T","t":-2,"m":0.9975,"lo":0.9955,"hi":0.9985},{"s":"7T","t":-1,"m":0.998,"lo":0.997,"hi":0.999},{"s":"7T","t":0,"m":1.0,"lo":0.9985,"hi":1.0015},{"s":"7T","t":1,"m":1.0005,"lo":0.998,"hi":1.0035},{"s":"7T","t":2,"m":0.9995,"lo":0.994,"hi":1.0035},{"s":"7T","t":3,"m":0.9985,"lo":0.9945,"hi":1.001},{"s":"7T","t":4,"m":1.0015,"lo":0.998,"hi":1.004},{"s":"7T","t":5,"m":1.0035,"lo":0.9995,"hi":1.007},{"s":"7T","t":6,"m":1.0035,"lo":1.0,"hi":1.0075},{"s":"7T","t":7,"m":1.004,"lo":1.0005,"hi":1.008},{"s":"7T","t":8,"m":1.005,"lo":1.0015,"hi":1.0085},{"s":"7T","t":9,"m":1.0065,"lo":1.0025,"hi":1.0105},{"s":"7T","t":10,"m":1.006,"lo":1.0015,"hi":1.011},{"s":"7T","t":11,"m":1.0065,"lo":1.003,"hi":1.0105},{"s":"7T","t":12,"m":1.006,"lo":1.003,"hi":1.009},{"s":"7T","t":13,"m":1.0065,"lo":1.0035,"hi":1.011},{"s":"7T","t":14,"m":1.006,"lo":1.0025,"hi":1.0095},{"s":"7T","t":15,"m":1.005,"lo":1.002,"hi":1.008},{"s":"7T","t":16,"m":1.004,"lo":1.0015,"hi":1.0065},{"s":"7T","t":17,"m":1.002,"lo":0.999,"hi":1.005},{"s":"7T","t":18,"m":1.003,"lo":1.0005,"hi":1.006},{"s":"7T","t":19,"m":1.0015,"lo":0.9995,"hi":1.004},{"s":"7T","t":20,"m":1.0025,"lo":1.0,"hi":1.005},{"s":"7T","t":21,"m":1.002,"lo":0.9995,"hi":1.0045},{"s":"7T","t":22,"m":1.0025,"lo":1.0005,"hi":1.0045},{"s":"7T","t":23,"m":1.002,"lo":1.0005,"hi":1.0035},{"s":"7T","t":24,"m":1.003,"lo":1.0015,"hi":1.0045},{"s":"7T","t":25,"m":1.0005,"lo":0.9995,"hi":1.0015},{"s":"7T","t":26,"m":1.0,"lo":0.999,"hi":1.001},{"s":"7T","t":27,"m":0.9995,"lo":0.9988,"hi":1.0003},{"s":"7T","t":28,"m":0.997,"lo":0.9955,"hi":0.9985},{"s":"7T","t":29,"m":0.998,"lo":0.997,"hi":0.999},{"s":"7T","t":30,"m":0.9995,"lo":0.9985,"hi":1.001}
]
},
"vconcat":[
{"hconcat":[
 {"width":177,"height":40,"data":{"values":[{"h":"(A)\u00a0 SE BOLD"}]},"mark":{"type":"text","fontSize":15,"fontWeight":"bold","color":"#000000","dx":-6,"dy":1.5},"encoding":{"text":{"field":"h"}}},
 {"width":177,"height":40,"data":{"values":[{"h":"(B)\u00a0 ADC 0.2/1 bipolar"}]},"mark":{"type":"text","fontSize":15,"fontWeight":"bold","color":"#000000","dx":-27,"dy":1.5},"encoding":{"text":{"field":"h"}}},
 {"width":177,"height":40,"data":{"values":[{"h":"(C)\u00a0 pseudo SE BOLD"}]},"mark":{"type":"text","fontSize":15,"fontWeight":"bold","color":"#000000","dx":-14,"dy":1.5},"encoding":{"text":{"field":"h"}}},
 {"width":177,"height":40,"data":{"values":[{"h":"(D)\u00a0 ADC 0/1 bipolar"}]},"mark":{"type":"text","fontSize":15,"fontWeight":"bold","color":"#000000","dx":-14,"dy":1.5},"encoding":{"text":{"field":"h"}}},
 {"width":177,"height":40,"data":{"values":[{"h":"(E)\u00a0 ADC 0.2/1 monopolar"}]},"mark":{"type":"text","fontSize":15,"fontWeight":"bold","color":"#000000","dx":5,"dy":1.5},"encoding":{"text":{"field":"h"}}}
],"spacing":65,"bounds":"flush"},
{"width":1156,"height":51,"data":{"values":[{"h":"visual cortex"}]},"mark":{"type":"text","fontSize":14,"fontWeight":"bold","color":"#000000","dy":-5.5},"encoding":{"text":{"field":"h"}}},
{"hconcat":[
 {"width":177,"height":171,"data":{"name":"A1"},"layer":[
  {"data":{"values":[{"start":0,"end":12}]},"mark":{"type":"rect","color":"#c8c8c8"},"encoding":{"x":{"field":"start","type":"quantitative","scale":{"domain":[-8,30],"nice":false,"zero":false},"axis":{"values":[0,10,20,30],"title":"time [s]","titleX":83}},"x2":{"field":"end"}}},
  {"data":{"values":[{"level":1}]},"mark":{"type":"rule","color":"#555555","strokeWidth":0.8},"encoding":{"y":{"field":"level","type":"quantitative","scale":{"domain":[0.9718,1.0243],"nice":false,"zero":false},"axis":{"values":[0.98,0.99,1,1.01,1.02],"format":".2~f","title":"relative BOLD signal","titleY":94}}}},
  {"transform":[{"filter":"datum.s=='7T'"}],"layer":[
   {"mark":{"type":"area","color":"#ff0000","opacity":0.5},"encoding":{"x":{"field":"t","type":"quantitative"},"y":{"field":"lo","type":"quantitative"},"y2":{"field":"hi"}}},
   {"mark":{"type":"line","color":"#000000","strokeWidth":0.8},"encoding":{"x":{"field":"t","type":"quantitative"},"y":{"field":"lo","type":"quantitative"}}},
   {"mark":{"type":"line","color":"#000000","strokeWidth":0.8},"encoding":{"x":{"field":"t","type":"quantitative"},"y":{"field":"hi","type":"quantitative"}}},
   {"mark":{"type":"line","strokeWidth":3},"encoding":{"x":{"field":"t","type":"quantitative"},"y":{"field":"m","type":"quantitative"},"color":{"field":"s","type":"nominal","scale":{"domain":["7T","3T"],"range":["#ff0000","#0000ff"]},"legend":{"title":null,"orient":"none","legendX":19,"legendY":119,"labelExpr":"datum.label=='7T'?'7T: 8 subject/s':'3T: 5 subject/s'"}}}}
  ]},
  {"transform":[{"filter":"datum.s=='3T'"}],"layer":[
   {"mark":{"type":"area","color":"#0000ff","opacity":0.5},"encoding":{"x":{"field":"t","type":"quantitative"},"y":{"field":"lo","type":"quantitative"},"y2":{"field":"hi"}}},
   {"mark":{"type":"line","color":"#000000","strokeWidth":0.8},"encoding":{"x":{"field":"t","type":"quantitative"},"y":{"field":"lo","type":"quantitative"}}},
   {"mark":{"type":"line","color":"#000000","strokeWidth":0.8},"encoding":{"x":{"field":"t","type":"quantitative"},"y":{"field":"hi","type":"quantitative"}}},
   {"mark":{"type":"line","strokeWidth":3},"encoding":{"x":{"field":"t","type":"quantitative"},"y":{"field":"m","type":"quantitative"},"color":{"field":"s","type":"nominal"}}}
  ]}
 ]},
 {"width":177,"height":171,"data":{"name":"B1"},"layer":[
  {"data":{"values":[{"start":0,"end":12}]},"mark":{"type":"rect","color":"#c8c8c8"},"encoding":{"x":{"field":"start","type":"quantitative","scale":{"domain":[-8,30],"nice":false,"zero":false},"axis":{"values":[0,10,20,30],"title":"time [s]","titleX":83}},"x2":{"field":"end"}}},
  {"data":{"values":[{"level":1}]},"mark":{"type":"rule","color":"#555555","strokeWidth":0.8},"encoding":{"y":{"field":"level","type":"quantitative","scale":{"domain":[0.9718,1.0243],"nice":false,"zero":false},"axis":{"values":[0.98,0.99,1,1.01,1.02],"format":".2~f","title":"relative ADC signal","titleY":94}}}},
  {"transform":[{"filter":"datum.s=='7T'"}],"layer":[
   {"mark":{"type":"area","color":"#ff0000","opacity":0.5},"encoding":{"x":{"field":"t","type":"quantitative"},"y":{"field":"lo","type":"quantitative"},"y2":{"field":"hi"}}},
   {"mark":{"type":"line","color":"#000000","strokeWidth":0.8},"encoding":{"x":{"field":"t","type":"quantitative"},"y":{"field":"lo","type":"quantitative"}}},
   {"mark":{"type":"line","color":"#000000","strokeWidth":0.8},"encoding":{"x":{"field":"t","type":"quantitative"},"y":{"field":"hi","type":"quantitative"}}},
   {"mark":{"type":"line","strokeWidth":3},"encoding":{"x":{"field":"t","type":"quantitative"},"y":{"field":"m","type":"quantitative"},"color":{"field":"s","type":"nominal","scale":{"domain":["7T","3T"],"range":["#ff0000","#0000ff"]},"legend":{"title":null,"orient":"none","legendX":14,"legendY":119,"labelExpr":"datum.label=='7T'?'7T: 9 subject/s':'3T: 17 subject/s'"}}}}
  ]},
  {"transform":[{"filter":"datum.s=='3T'"}],"layer":[
   {"mark":{"type":"area","color":"#0000ff","opacity":0.5},"encoding":{"x":{"field":"t","type":"quantitative"},"y":{"field":"lo","type":"quantitative"},"y2":{"field":"hi"}}},
   {"mark":{"type":"line","color":"#000000","strokeWidth":0.8},"encoding":{"x":{"field":"t","type":"quantitative"},"y":{"field":"lo","type":"quantitative"}}},
   {"mark":{"type":"line","color":"#000000","strokeWidth":0.8},"encoding":{"x":{"field":"t","type":"quantitative"},"y":{"field":"hi","type":"quantitative"}}},
   {"mark":{"type":"line","strokeWidth":3},"encoding":{"x":{"field":"t","type":"quantitative"},"y":{"field":"m","type":"quantitative"},"color":{"field":"s","type":"nominal"}}}
  ]}
 ]},
 {"width":177,"height":171,"data":{"name":"C1"},"layer":[
  {"data":{"values":[{"start":0,"end":12}]},"mark":{"type":"rect","color":"#c8c8c8"},"encoding":{"x":{"field":"start","type":"quantitative","scale":{"domain":[-8,30],"nice":false,"zero":false},"axis":{"values":[0,10,20,30],"title":"time [s]","titleX":83}},"x2":{"field":"end"}}},
  {"data":{"values":[{"level":1}]},"mark":{"type":"rule","color":"#555555","strokeWidth":0.8},"encoding":{"y":{"field":"level","type":"quantitative","scale":{"domain":[0.9718,1.0243],"nice":false,"zero":false},"axis":{"values":[0.98,0.99,1,1.01,1.02],"format":".2~f","title":"relative BOLD signal","titleY":94}}}},
  {"transform":[{"filter":"datum.s=='7T'"}],"layer":[
   {"mark":{"type":"area","color":"#ff0000","opacity":0.5},"encoding":{"x":{"field":"t","type":"quantitative"},"y":{"field":"lo","type":"quantitative"},"y2":{"field":"hi"}}},
   {"mark":{"type":"line","color":"#000000","strokeWidth":0.8},"encoding":{"x":{"field":"t","type":"quantitative"},"y":{"field":"lo","type":"quantitative"}}},
   {"mark":{"type":"line","color":"#000000","strokeWidth":0.8},"encoding":{"x":{"field":"t","type":"quantitative"},"y":{"field":"hi","type":"quantitative"}}},
   {"mark":{"type":"line","strokeWidth":3},"encoding":{"x":{"field":"t","type":"quantitative"},"y":{"field":"m","type":"quantitative"},"color":{"field":"s","type":"nominal","scale":{"domain":["7T","3T"],"range":["#ff0000","#0000ff"]},"legend":{"title":null,"orient":"none","legendX":16,"legendY":119,"labelExpr":"datum.label=='7T'?'7T: 10 subject/s':'3T: 18 subject/s'"}}}}
  ]},
  {"transform":[{"filter":"datum.s=='3T'"}],"layer":[
   {"mark":{"type":"area","color":"#0000ff","opacity":0.5},"encoding":{"x":{"field":"t","type":"quantitative"},"y":{"field":"lo","type":"quantitative"},"y2":{"field":"hi"}}},
   {"mark":{"type":"line","color":"#000000","strokeWidth":0.8},"encoding":{"x":{"field":"t","type":"quantitative"},"y":{"field":"lo","type":"quantitative"}}},
   {"mark":{"type":"line","color":"#000000","strokeWidth":0.8},"encoding":{"x":{"field":"t","type":"quantitative"},"y":{"field":"hi","type":"quantitative"}}},
   {"mark":{"type":"line","strokeWidth":3},"encoding":{"x":{"field":"t","type":"quantitative"},"y":{"field":"m","type":"quantitative"},"color":{"field":"s","type":"nominal"}}}
  ]}
 ]},
 {"width":177,"height":171,"data":{"name":"D1"},"layer":[
  {"data":{"values":[{"start":0,"end":12}]},"mark":{"type":"rect","color":"#c8c8c8"},"encoding":{"x":{"field":"start","type":"quantitative","scale":{"domain":[-8,30],"nice":false,"zero":false},"axis":{"values":[0,10,20,30],"title":"time [s]","titleX":83}},"x2":{"field":"end"}}},
  {"data":{"values":[{"level":1}]},"mark":{"type":"rule","color":"#555555","strokeWidth":0.8},"encoding":{"y":{"field":"level","type":"quantitative","scale":{"domain":[0.9718,1.0243],"nice":false,"zero":false},"axis":{"values":[0.98,0.99,1,1.01,1.02],"format":".2~f","title":"relative ADC signal","titleY":94}}}},
  {"transform":[{"filter":"datum.s=='7T'"}],"layer":[
   {"mark":{"type":"area","color":"#ff0000","opacity":0.5},"encoding":{"x":{"field":"t","type":"quantitative"},"y":{"field":"lo","type":"quantitative"},"y2":{"field":"hi"}}},
   {"mark":{"type":"line","color":"#000000","strokeWidth":0.8},"encoding":{"x":{"field":"t","type":"quantitative"},"y":{"field":"lo","type":"quantitative"}}},
   {"mark":{"type":"line","color":"#000000","strokeWidth":0.8},"encoding":{"x":{"field":"t","type":"quantitative"},"y":{"field":"hi","type":"quantitative"}}},
   {"mark":{"type":"line","strokeWidth":3},"encoding":{"x":{"field":"t","type":"quantitative"},"y":{"field":"m","type":"quantitative"},"color":{"field":"s","type":"nominal","scale":{"domain":["7T","3T"],"range":["#ff0000","#0000ff"]},"legend":{"title":null,"orient":"none","legendX":20,"legendY":119,"labelExpr":"datum.label=='7T'?'7T: 2 subject/s':'3T: 1 subject/s'"}}}}
  ]},
  {"transform":[{"filter":"datum.s=='3T'"}],"mark":{"type":"line","strokeWidth":3},"encoding":{"x":{"field":"t","type":"quantitative"},"y":{"field":"m","type":"quantitative"},"color":{"field":"s","type":"nominal"}}}
 ]},
 {"width":177,"height":171,"data":{"name":"E1"},"layer":[
  {"data":{"values":[{"start":0,"end":12}]},"mark":{"type":"rect","color":"#c8c8c8"},"encoding":{"x":{"field":"start","type":"quantitative","scale":{"domain":[-8,30],"nice":false,"zero":false},"axis":{"values":[0,10,20,30],"title":"time [s]","titleX":83}},"x2":{"field":"end"}}},
  {"data":{"values":[{"level":1}]},"mark":{"type":"rule","color":"#555555","strokeWidth":0.8},"encoding":{"y":{"field":"level","type":"quantitative","scale":{"domain":[0.9718,1.0243],"nice":false,"zero":false},"axis":{"values":[0.98,0.99,1,1.01,1.02],"format":".2~f","title":"relative ADC signal","titleY":94}}}},
  {"transform":[{"filter":"datum.s=='7T'"}],"layer":[
   {"mark":{"type":"area","color":"#ff0000","opacity":0.5},"encoding":{"x":{"field":"t","type":"quantitative"},"y":{"field":"lo","type":"quantitative"},"y2":{"field":"hi"}}},
   {"mark":{"type":"line","color":"#000000","strokeWidth":0.8},"encoding":{"x":{"field":"t","type":"quantitative"},"y":{"field":"lo","type":"quantitative"}}},
   {"mark":{"type":"line","color":"#000000","strokeWidth":0.8},"encoding":{"x":{"field":"t","type":"quantitative"},"y":{"field":"hi","type":"quantitative"}}},
   {"mark":{"type":"line","strokeWidth":3},"encoding":{"x":{"field":"t","type":"quantitative"},"y":{"field":"m","type":"quantitative"},"color":{"field":"s","type":"nominal","scale":{"domain":["7T","3T"],"range":["#ff0000","#0000ff"]},"legend":{"title":null,"orient":"none","legendX":21,"legendY":119,"labelExpr":"datum.label=='7T'?'7T: 8 subject/s':'3T: 7 subject/s'"}}}}
  ]},
  {"transform":[{"filter":"datum.s=='3T'"}],"layer":[
   {"mark":{"type":"area","color":"#0000ff","opacity":0.5},"encoding":{"x":{"field":"t","type":"quantitative"},"y":{"field":"lo","type":"quantitative"},"y2":{"field":"hi"}}},
   {"mark":{"type":"line","color":"#000000","strokeWidth":0.8},"encoding":{"x":{"field":"t","type":"quantitative"},"y":{"field":"lo","type":"quantitative"}}},
   {"mark":{"type":"line","color":"#000000","strokeWidth":0.8},"encoding":{"x":{"field":"t","type":"quantitative"},"y":{"field":"hi","type":"quantitative"}}},
   {"mark":{"type":"line","strokeWidth":3},"encoding":{"x":{"field":"t","type":"quantitative"},"y":{"field":"m","type":"quantitative"},"color":{"field":"s","type":"nominal"}}}
  ]}
 ]}
],"spacing":65,"bounds":"flush","resolve":{"scale":{"color":"independent"},"legend":{"color":"independent"}}},
{"width":1156,"height":54,"data":{"values":[{"h":"motor cortex"}]},"mark":{"type":"text","fontSize":14,"fontWeight":"bold","color":"#000000","dy":-3},"encoding":{"text":{"field":"h"}}},
{"hconcat":[
 {"width":177,"height":171,"data":{"name":"A2"},"layer":[
  {"data":{"values":[{"start":0,"end":12}]},"mark":{"type":"rect","color":"#c8c8c8"},"encoding":{"x":{"field":"start","type":"quantitative","scale":{"domain":[-8,30],"nice":false,"zero":false},"axis":{"values":[0,10,20,30],"title":"time [s]","titleX":83}},"x2":{"field":"end"}}},
  {"data":{"values":[{"level":1}]},"mark":{"type":"rule","color":"#555555","strokeWidth":0.8},"encoding":{"y":{"field":"level","type":"quantitative","scale":{"domain":[0.9718,1.0243],"nice":false,"zero":false},"axis":{"values":[0.98,0.99,1,1.01,1.02],"format":".2~f","title":"relative BOLD signal","titleY":94}}}},
  {"transform":[{"filter":"datum.s=='7T'"}],"layer":[
   {"mark":{"type":"area","color":"#ff0000","opacity":0.5},"encoding":{"x":{"field":"t","type":"quantitative"},"y":{"field":"lo","type":"quantitative"},"y2":{"field":"hi"}}},
   {"mark":{"type":"line","color":"#000000","strokeWidth":0.8},"encoding":{"x":{"field":"t","type":"quantitative"},"y":{"field":"lo","type":"quantitative"}}},
   {"mark":{"type":"line","color":"#000000","strokeWidth":0.8},"encoding":{"x":{"field":"t","type":"quantitative"},"y":{"field":"hi","type":"quantitative"}}},
   {"mark":{"type":"line","strokeWidth":3},"encoding":{"x":{"field":"t","type":"quantitative"},"y":{"field":"m","type":"quantitative"},"color":{"field":"s","type":"nominal","scale":{"domain":["7T","3T"],"range":["#ff0000","#0000ff"]},"legend":{"title":null,"orient":"none","legendX":19,"legendY":119,"labelExpr":"datum.label=='7T'?'7T: 8 subject/s':'3T: 5 subject/s'"}}}}
  ]},
  {"transform":[{"filter":"datum.s=='3T'"}],"layer":[
   {"mark":{"type":"area","color":"#0000ff","opacity":0.5},"encoding":{"x":{"field":"t","type":"quantitative"},"y":{"field":"lo","type":"quantitative"},"y2":{"field":"hi"}}},
   {"mark":{"type":"line","color":"#000000","strokeWidth":0.8},"encoding":{"x":{"field":"t","type":"quantitative"},"y":{"field":"lo","type":"quantitative"}}},
   {"mark":{"type":"line","color":"#000000","strokeWidth":0.8},"encoding":{"x":{"field":"t","type":"quantitative"},"y":{"field":"hi","type":"quantitative"}}},
   {"mark":{"type":"line","strokeWidth":3},"encoding":{"x":{"field":"t","type":"quantitative"},"y":{"field":"m","type":"quantitative"},"color":{"field":"s","type":"nominal"}}}
  ]}
 ]},
 {"width":177,"height":171,"data":{"name":"B2"},"layer":[
  {"data":{"values":[{"start":0,"end":12}]},"mark":{"type":"rect","color":"#c8c8c8"},"encoding":{"x":{"field":"start","type":"quantitative","scale":{"domain":[-8,30],"nice":false,"zero":false},"axis":{"values":[0,10,20,30],"title":"time [s]","titleX":83}},"x2":{"field":"end"}}},
  {"data":{"values":[{"level":1}]},"mark":{"type":"rule","color":"#555555","strokeWidth":0.8},"encoding":{"y":{"field":"level","type":"quantitative","scale":{"domain":[0.9718,1.0243],"nice":false,"zero":false},"axis":{"values":[0.98,0.99,1,1.01,1.02],"format":".2~f","title":"relative ADC signal","titleY":94}}}},
  {"transform":[{"filter":"datum.s=='7T'"}],"layer":[
   {"mark":{"type":"area","color":"#ff0000","opacity":0.5},"encoding":{"x":{"field":"t","type":"quantitative"},"y":{"field":"lo","type":"quantitative"},"y2":{"field":"hi"}}},
   {"mark":{"type":"line","color":"#000000","strokeWidth":0.8},"encoding":{"x":{"field":"t","type":"quantitative"},"y":{"field":"lo","type":"quantitative"}}},
   {"mark":{"type":"line","color":"#000000","strokeWidth":0.8},"encoding":{"x":{"field":"t","type":"quantitative"},"y":{"field":"hi","type":"quantitative"}}},
   {"mark":{"type":"line","strokeWidth":3},"encoding":{"x":{"field":"t","type":"quantitative"},"y":{"field":"m","type":"quantitative"},"color":{"field":"s","type":"nominal","scale":{"domain":["7T","3T"],"range":["#ff0000","#0000ff"]},"legend":{"title":null,"orient":"none","legendX":30,"legendY":4,"labelExpr":"datum.label=='7T'?'7T: 6 subject/s':'3T: 5 subject/s'"}}}}
  ]},
  {"transform":[{"filter":"datum.s=='3T'"}],"layer":[
   {"mark":{"type":"area","color":"#0000ff","opacity":0.5},"encoding":{"x":{"field":"t","type":"quantitative"},"y":{"field":"lo","type":"quantitative"},"y2":{"field":"hi"}}},
   {"mark":{"type":"line","color":"#000000","strokeWidth":0.8},"encoding":{"x":{"field":"t","type":"quantitative"},"y":{"field":"lo","type":"quantitative"}}},
   {"mark":{"type":"line","color":"#000000","strokeWidth":0.8},"encoding":{"x":{"field":"t","type":"quantitative"},"y":{"field":"hi","type":"quantitative"}}},
   {"mark":{"type":"line","strokeWidth":3},"encoding":{"x":{"field":"t","type":"quantitative"},"y":{"field":"m","type":"quantitative"},"color":{"field":"s","type":"nominal"}}}
  ]}
 ]},
 {"width":177,"height":171,"data":{"name":"C2"},"layer":[
  {"data":{"values":[{"start":0,"end":12}]},"mark":{"type":"rect","color":"#c8c8c8"},"encoding":{"x":{"field":"start","type":"quantitative","scale":{"domain":[-8,30],"nice":false,"zero":false},"axis":{"values":[0,10,20,30],"title":"time [s]","titleX":83}},"x2":{"field":"end"}}},
  {"data":{"values":[{"level":1}]},"mark":{"type":"rule","color":"#555555","strokeWidth":0.8},"encoding":{"y":{"field":"level","type":"quantitative","scale":{"domain":[0.9718,1.0243],"nice":false,"zero":false},"axis":{"values":[0.98,0.99,1,1.01,1.02],"format":".2~f","title":"relative BOLD signal","titleY":94}}}},
  {"transform":[{"filter":"datum.s=='7T'"}],"layer":[
   {"mark":{"type":"area","color":"#ff0000","opacity":0.5},"encoding":{"x":{"field":"t","type":"quantitative"},"y":{"field":"lo","type":"quantitative"},"y2":{"field":"hi"}}},
   {"mark":{"type":"line","color":"#000000","strokeWidth":0.8},"encoding":{"x":{"field":"t","type":"quantitative"},"y":{"field":"lo","type":"quantitative"}}},
   {"mark":{"type":"line","color":"#000000","strokeWidth":0.8},"encoding":{"x":{"field":"t","type":"quantitative"},"y":{"field":"hi","type":"quantitative"}}},
   {"mark":{"type":"line","strokeWidth":3},"encoding":{"x":{"field":"t","type":"quantitative"},"y":{"field":"m","type":"quantitative"},"color":{"field":"s","type":"nominal","scale":{"domain":["7T","3T"],"range":["#ff0000","#0000ff"]},"legend":{"title":null,"orient":"none","legendX":16,"legendY":4,"labelExpr":"datum.label=='7T'?'7T: 12 subject/s':'3T: 7 subject/s'"}}}}
  ]},
  {"transform":[{"filter":"datum.s=='3T'"}],"layer":[
   {"mark":{"type":"area","color":"#0000ff","opacity":0.5},"encoding":{"x":{"field":"t","type":"quantitative"},"y":{"field":"lo","type":"quantitative"},"y2":{"field":"hi"}}},
   {"mark":{"type":"line","color":"#000000","strokeWidth":0.8},"encoding":{"x":{"field":"t","type":"quantitative"},"y":{"field":"lo","type":"quantitative"}}},
   {"mark":{"type":"line","color":"#000000","strokeWidth":0.8},"encoding":{"x":{"field":"t","type":"quantitative"},"y":{"field":"hi","type":"quantitative"}}},
   {"mark":{"type":"line","strokeWidth":3},"encoding":{"x":{"field":"t","type":"quantitative"},"y":{"field":"m","type":"quantitative"},"color":{"field":"s","type":"nominal"}}}
  ]}
 ]},
 {"width":177,"height":171,"data":{"name":"D2"},"layer":[
  {"data":{"values":[{"start":0,"end":12}]},"mark":{"type":"rect","color":"#c8c8c8"},"encoding":{"x":{"field":"start","type":"quantitative","scale":{"domain":[-8,30],"nice":false,"zero":false},"axis":{"values":[0,10,20,30],"title":"time [s]","titleX":83}},"x2":{"field":"end"}}},
  {"data":{"values":[{"level":1}]},"mark":{"type":"rule","color":"#555555","strokeWidth":0.8},"encoding":{"y":{"field":"level","type":"quantitative","scale":{"domain":[0.9718,1.0243],"nice":false,"zero":false},"axis":{"values":[0.98,0.99,1,1.01,1.02],"format":".2~f","title":"relative ADC signal","titleY":94}}}},
  {"mark":{"type":"area","color":"#ff0000","opacity":0.5},"encoding":{"x":{"field":"t","type":"quantitative"},"y":{"field":"lo","type":"quantitative"},"y2":{"field":"hi"}}},
  {"mark":{"type":"line","color":"#000000","strokeWidth":0.8},"encoding":{"x":{"field":"t","type":"quantitative"},"y":{"field":"lo","type":"quantitative"}}},
  {"mark":{"type":"line","color":"#000000","strokeWidth":0.8},"encoding":{"x":{"field":"t","type":"quantitative"},"y":{"field":"hi","type":"quantitative"}}},
  {"mark":{"type":"line","strokeWidth":3},"encoding":{"x":{"field":"t","type":"quantitative"},"y":{"field":"m","type":"quantitative"},"color":{"field":"s","type":"nominal","scale":{"domain":["7T"],"range":["#ff0000"]},"legend":{"title":null,"orient":"none","legendX":21,"legendY":2,"labelExpr":"'7T: 2 subject/s'"}}}}
 ]},
 {"width":177,"height":171,"data":{"name":"E2"},"layer":[
  {"data":{"values":[{"start":0,"end":12}]},"mark":{"type":"rect","color":"#c8c8c8"},"encoding":{"x":{"field":"start","type":"quantitative","scale":{"domain":[-8,30],"nice":false,"zero":false},"axis":{"values":[0,10,20,30],"title":"time [s]","titleX":83}},"x2":{"field":"end"}}},
  {"data":{"values":[{"level":1}]},"mark":{"type":"rule","color":"#555555","strokeWidth":0.8},"encoding":{"y":{"field":"level","type":"quantitative","scale":{"domain":[0.9718,1.0243],"nice":false,"zero":false},"axis":{"values":[0.98,0.99,1,1.01,1.02],"format":".2~f","title":"relative ADC signal","titleY":94}}}},
  {"mark":{"type":"area","color":"#ff0000","opacity":0.5},"encoding":{"x":{"field":"t","type":"quantitative"},"y":{"field":"lo","type":"quantitative"},"y2":{"field":"hi"}}},
  {"mark":{"type":"line","color":"#000000","strokeWidth":0.8},"encoding":{"x":{"field":"t","type":"quantitative"},"y":{"field":"lo","type":"quantitative"}}},
  {"mark":{"type":"line","color":"#000000","strokeWidth":0.8},"encoding":{"x":{"field":"t","type":"quantitative"},"y":{"field":"hi","type":"quantitative"}}},
  {"mark":{"type":"line","strokeWidth":3},"encoding":{"x":{"field":"t","type":"quantitative"},"y":{"field":"m","type":"quantitative"},"color":{"field":"s","type":"nominal","scale":{"domain":["7T"],"range":["#ff0000"]},"legend":{"title":null,"orient":"none","legendX":21,"legendY":139,"labelExpr":"'7T: 7 subject/s'"}}}}
 ]}
],"spacing":65,"bounds":"flush","resolve":{"scale":{"color":"independent"},"legend":{"color":"independent"}}},
{"width":177,"height":49,"data":{"values":[{"phase":"Task","start":-0.3,"end":12.1,"mid":6.8},{"phase":"Rest","start":12.6,"end":30,"mid":21.5}]},"layer":[
 {"mark":{"type":"rule","color":"#4a7ebb","strokeWidth":1},"encoding":{"x":{"field":"start","type":"quantitative","scale":{"domain":[-8,30],"nice":false,"zero":false},"axis":null},"x2":{"field":"end"},"y":{"datum":20,"type":"quantitative","scale":{"domain":[0,49],"nice":false,"zero":false},"axis":null}}},
 {"mark":{"type":"point","shape":"triangle-left","filled":true,"color":"#4a7ebb","size":22,"opacity":1},"encoding":{"x":{"field":"start","type":"quantitative"},"y":{"datum":20,"type":"quantitative"}}},
 {"mark":{"type":"point","shape":"triangle-right","filled":true,"color":"#4a7ebb","size":22,"opacity":1},"encoding":{"x":{"field":"end","type":"quantitative"},"y":{"datum":20,"type":"quantitative"}}},
 {"mark":{"type":"text","font":"Lato","fontSize":16,"color":"#262626"},"encoding":{"x":{"field":"mid","type":"quantitative"},"y":{"datum":9,"type":"quantitative"},"text":{"field":"phase"}}}
]}
]
}
